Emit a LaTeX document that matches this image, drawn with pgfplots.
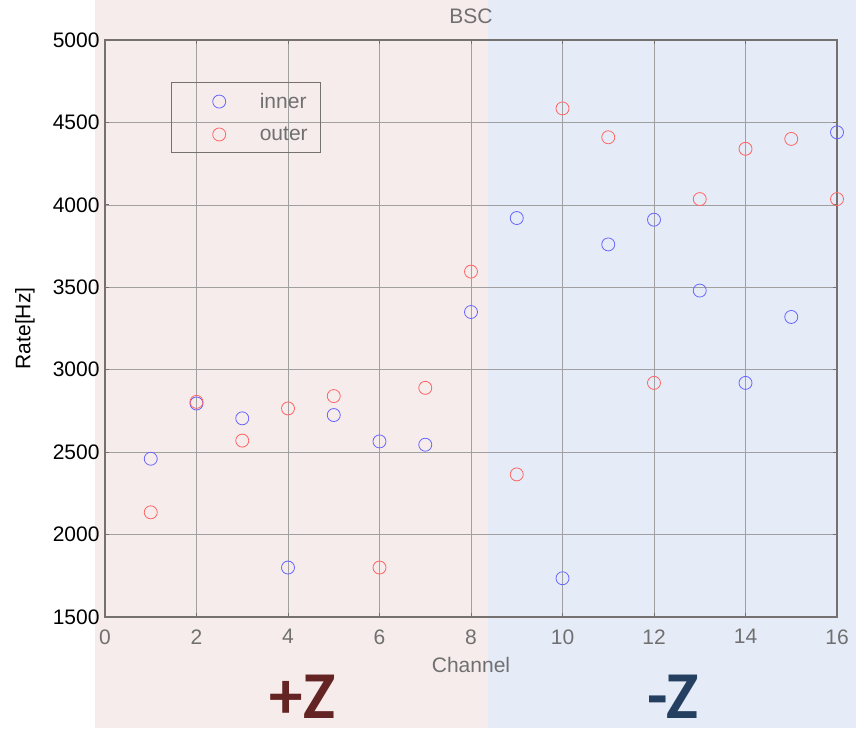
\documentclass[border=0pt]{standalone}
\usepackage{fontspec}
\setmainfont{Liberation Sans}
\newfontfamily\carlito{Carlito}
\usepackage{pgfplots}
\pgfplotsset{compat=1.18}
\definecolor{bgpink}{RGB}{247,236,236}
\definecolor{bgblue}{RGB}{230,236,247}
\definecolor{txtgray}{RGB}{112,112,112}
\definecolor{axgray}{RGB}{118,113,113}
\definecolor{gridgray}{RGB}{160,160,160}
\definecolor{mblue}{RGB}{102,102,255}
\definecolor{mred}{RGB}{255,100,100}
\definecolor{zred}{RGB}{99,36,35}
\definecolor{zblue}{RGB}{36,63,96}
\newcommand{\fs}{\fontsize{21}{25}\selectfont}
\begin{document}
\begin{tikzpicture}[x=1pt,y=1pt]
\useasboundingbox (0,0) rectangle (856,728);
\fill[white] (0,0) rectangle (856,728);
\fill[bgpink] (95,0) rectangle (488,728);
\fill[bgblue] (488,0) rectangle (856,728);
\begin{axis}[
 at={(105pt,111pt)}, anchor=south west, scale only axis,
 width=732pt, height=577pt,
 xmin=0,xmax=16,ymin=1500,ymax=5000,
 xtick={0,2,...,16}, ytick={1500,2000,...,5000},
 grid=major, grid style={gridgray, line width=0.7pt},
 axis line style={axgray, line width=1.3pt},
 major tick length=4pt, tick style={axgray, line width=0.8pt},
 tick align=inside,
 /pgf/number format/assume math mode=true,
 /pgf/number format/1000 sep={},
 ticklabel style={font=\fs},
 xticklabel style={text=txtgray, yshift=-9pt},
 yticklabel style={text=black, xshift=-2pt},
 title={BSC},
 every axis title/.style={font=\fs, text=txtgray, at={(0.5,1.0416)}, anchor=center},
 xlabel={Channel},
 every axis x label/.style={font=\fs, text=txtgray, at={(0.5,-0.0832)}, anchor=center},
 ylabel={Rate[Hz]},
 every axis y label/.style={font=\fs, text=black, at={(-0.1093,0.5)}, anchor=center, rotate=90},
 legend style={at={(0.0902,0.927)}, anchor=north west, draw=axgray, line width=1.2pt,
   fill=none, font=\fs, text=txtgray, row sep=13pt, inner ysep=8.5pt, inner xsep=3pt},
 legend cell align=left,
 legend image code/.code={\path (0pt,0pt) (82pt,0pt); \draw[#1] plot coordinates {(44pt,0pt)};},
]
\addplot[only marks, mark=o, mark size=6.5pt, color=mblue, mark options={line width=0.8pt}] coordinates {
(1,2460) (2,2795) (3,2705) (4,1800) (5,2725) (6,2565) (7,2545) (8,3350)
(9,3920) (10,1735) (11,3760) (12,3910) (13,3480) (14,2920) (15,3320) (16,4440)
};
\addlegendentry{inner\rule{8pt}{0pt}}
\addplot[only marks, mark=o, mark size=6.5pt, color=mred, mark options={line width=0.8pt}] coordinates {
(1,2135) (2,2805) (3,2570) (4,2765) (5,2840) (6,1800) (7,2890) (8,3595)
(9,2365) (10,4585) (11,4410) (12,2920) (13,4035) (14,4340) (15,4400) (16,4035)
};
\addlegendentry{outer\rule{8pt}{0pt}}
\end{axis}
\node[inner sep=0pt, font=\carlito\bfseries\fontsize{67}{70}\selectfont, text=zred] at (302.5,31) {+Z};
\node[inner sep=0pt, font=\carlito\bfseries\fontsize{67}{70}\selectfont, text=zblue] at (673,31) {-Z};
\end{tikzpicture}
\end{document}
